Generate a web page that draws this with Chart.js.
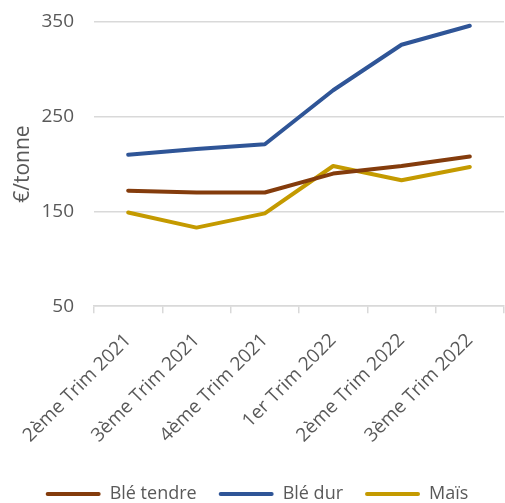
<!DOCTYPE html>
<html>
<head>
<meta charset="utf-8">
<script src="https://cdn.jsdelivr.net/npm/chart.js@4"></script>
<style>
  html, body { margin: 0; padding: 0; background: #fff; }
  #wrap { width: 505px; height: 503px; }
</style>
</head>
<body>
<div id="wrap"><canvas id="chart"></canvas></div>
<script>
// quarters on the x axis
const categories = ['2ème Trim 2021', '3ème Trim 2021', '4ème Trim 2021', '1er Trim 2022', '2ème Trim 2022', '3ème Trim 2022'];

// prices in €/tonne
const bleTendre = [172, 170, 170, 190, 198, 208];
const bleDur = [210, 216, 221, 278, 326, 346];
const mais = [149, 133, 148, 198, 183, 197];

const yTicks = [50, 150, 250, 350];

const textColor = '#595959';
const gridColor = '#d9d9d9';
const font = '"Open Sans", sans-serif';

new Chart(document.getElementById('chart'), {
    type: 'line',
    data: {
        labels: categories,
        datasets: [
            { label: 'Blé tendre', data: bleTendre, borderColor: '#843c0c', backgroundColor: '#843c0c' },
            { label: 'Blé dur', data: bleDur, borderColor: '#2f5597', backgroundColor: '#2f5597' },
            { label: 'Maïs', data: mais, borderColor: '#c49a00', backgroundColor: '#c49a00' }
        ]
    },
    options: {
        responsive: true,
        maintainAspectRatio: false,
        animation: false,
        layout: { padding: { left: 10, right: 1, top: 22, bottom: -10 } },
        elements: {
            line: { borderWidth: 4, tension: 0, borderCapStyle: 'round', borderJoinStyle: 'round' },
            point: { radius: 0 }
        },
        plugins: {
            legend: {
                position: 'bottom',
                labels: {
                    color: textColor,
                    font: { family: font, size: 18 },
                    boxWidth: 55,
                    boxHeight: 4,
                    padding: 22,
                    generateLabels(chart) {
                        return chart.data.datasets.map((ds, i) => ({
                            text: ds.label,
                            fillStyle: ds.borderColor,
                            strokeStyle: ds.borderColor,
                            lineWidth: 0,
                            borderRadius: 2,
                            datasetIndex: i,
                            fontColor: textColor
                        }));
                    }
                }
            },
            tooltip: { enabled: false }
        },
        scales: {
            x: {
                offset: true,
                afterFit(scale) {
                    // rotated first label may hang into the y axis area
                    scale.paddingLeft = 0;
                },
                grid: {
                    display: true,
                    offset: true,
                    drawOnChartArea: false,
                    drawTicks: true,
                    tickLength: 7,
                    color: gridColor,
                    lineWidth: 1.5
                },
                border: { display: true, color: gridColor, width: 1.5 },
                ticks: {
                    color: textColor,
                    font: { family: font, size: 19 },
                    minRotation: 45,
                    maxRotation: 45,
                    padding: 16
                }
            },
            y: {
                min: 50,
                max: 350,
                afterBuildTicks(scale) {
                    scale.ticks = yTicks.map(v => ({ value: v }));
                },
                afterFit(scale) {
                    scale.width = 84;
                    scale.paddingTop = 0;
                    scale.paddingBottom = 0;
                },
                grid: { color: gridColor, lineWidth: 1.5, drawTicks: false },
                border: { display: false },
                ticks: {
                    color: textColor,
                    font: { family: font, size: 19 },
                    padding: 20
                },
                title: {
                    display: true,
                    text: '€/tonne',
                    color: textColor,
                    font: { family: font, size: 21 },
                    padding: { top: 0, bottom: 6 }
                }
            }
        }
    }
});
</script>
</body>
</html>
